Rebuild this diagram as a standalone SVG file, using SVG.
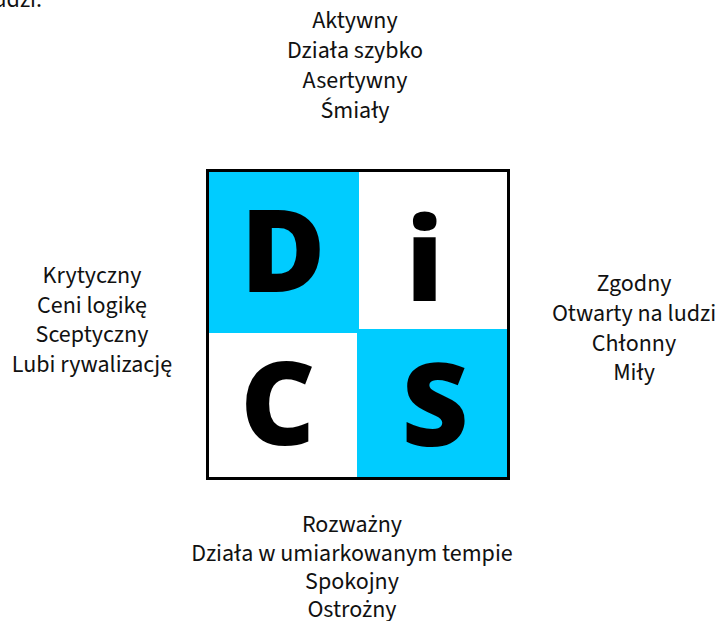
<svg xmlns="http://www.w3.org/2000/svg" width="719" height="621" viewBox="0 0 719 621">
<style>
.t{font-family:"Source Sans 3","Noto Sans","Liberation Sans",sans-serif;font-size:24px;fill:#111;text-anchor:middle}
.big{font-family:"Open Sans","Noto Sans","Liberation Sans",sans-serif;font-weight:800;font-size:116px;fill:#000;text-anchor:middle}
.blue{fill:#00CCFF}
</style>
<rect width="719" height="621" fill="#fff"/>
<text class="t" x="42" y="7" style="text-anchor:end">ludzi:</text>
<g id="disc">
<rect x="207.5" y="170.5" width="301" height="308" fill="#fff" stroke="#000" stroke-width="3"/>
<rect class="blue" x="209" y="172" width="150" height="161"/>
<rect class="blue" x="357" y="329" width="150" height="148"/>
<text class="big" x="283" y="292">D</text>
<text class="big" x="424.5" y="301">i</text>
<text class="big" x="278" y="445">C</text>
<text class="big" x="435" y="446">S</text>
</g>
<g id="top">
<text class="t" x="355" y="28">Aktywny</text>
<text class="t" x="355" y="58">Działa szybko</text>
<text class="t" x="355" y="88">Asertywny</text>
<text class="t" x="355" y="118">Śmiały</text>
</g>
<g id="left">
<text class="t" x="92" y="283">Krytyczny</text>
<text class="t" x="92" y="313">Ceni logikę</text>
<text class="t" x="92" y="342">Sceptyczny</text>
<text class="t" x="92" y="372">Lubi rywalizację</text>
</g>
<g id="right">
<text class="t" x="634" y="291">Zgodny</text>
<text class="t" x="634" y="321">Otwarty na ludzi</text>
<text class="t" x="634" y="351">Chłonny</text>
<text class="t" x="634" y="380">Miły</text>
</g>
<g id="bottom">
<text class="t" x="352" y="532">Rozważny</text>
<text class="t" x="352" y="561">Działa w umiarkowanym tempie</text>
<text class="t" x="352" y="589">Spokojny</text>
<text class="t" x="352" y="617">Ostrożny</text>
</g>
<g id="connectors"/>
</svg>
